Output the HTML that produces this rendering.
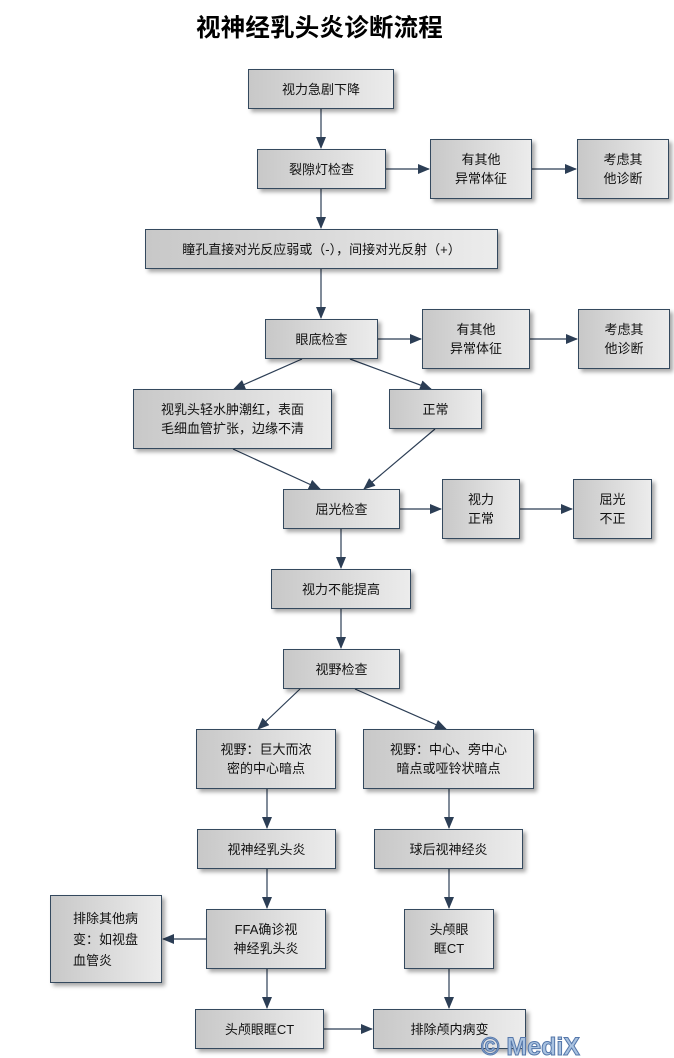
<!DOCTYPE html>
<html><head><meta charset="utf-8"><style>
html,body{margin:0;padding:0;background:#fff;width:674px;height:1058px;overflow:hidden;position:relative;font-family:"Liberation Sans","Noto Sans CJK SC",sans-serif;}
.b{position:absolute;box-sizing:border-box;border:1px solid #34495e;background:linear-gradient(to right,#c8c8c8,#ececec);box-shadow:3px 3px 4px rgba(0,0,0,0.35);display:flex;align-items:center;justify-content:center;text-align:center;font-size:13px;line-height:19px;color:#111;}
h1{position:absolute;left:196px;top:11px;margin:0;font-size:24.5px;letter-spacing:0.2px;font-weight:bold;font-family:"Noto Sans CJK SC",sans-serif;line-height:32px;color:#000;white-space:nowrap;}
svg{position:absolute;left:0;top:0;}
.wm{position:absolute;left:481px;top:1034px;font-size:25px;font-weight:bold;color:#a9c2e0;-webkit-text-stroke:1px #5577aa;font-family:"Liberation Sans",sans-serif;line-height:26px;}
</style></head><body>
<h1>视神经乳头炎诊断流程</h1>
<svg width="674" height="1058">
<defs><marker id="a" markerWidth="12" markerHeight="10" refX="11" refY="5" orient="auto" markerUnits="userSpaceOnUse"><path d="M0,0 L12,5 L0,10 Z" fill="#2c3e55"/></marker></defs>
<g stroke="#2c3e55" stroke-width="1.2" fill="none" marker-end="url(#a)">
<line x1="321" y1="109" x2="321" y2="148"/>
<line x1="386" y1="169" x2="429" y2="169"/>
<line x1="532" y1="169" x2="576" y2="169"/>
<line x1="321" y1="189" x2="321" y2="228"/>
<line x1="321" y1="269" x2="321" y2="318"/>
<line x1="378" y1="339" x2="421" y2="339"/>
<line x1="530" y1="339" x2="577" y2="339"/>
<line x1="302" y1="359" x2="234" y2="389"/>
<line x1="350" y1="359" x2="431" y2="389"/>
<line x1="233" y1="449" x2="320" y2="489"/>
<line x1="435" y1="429" x2="364" y2="489"/>
<line x1="400" y1="509" x2="441" y2="509"/>
<line x1="520" y1="509" x2="572" y2="509"/>
<line x1="341" y1="529" x2="341" y2="568"/>
<line x1="341" y1="609" x2="341" y2="648"/>
<line x1="300" y1="689" x2="258" y2="729"/>
<line x1="355" y1="689" x2="446" y2="729"/>
<line x1="267" y1="789" x2="267" y2="828"/>
<line x1="449" y1="789" x2="449" y2="828"/>
<line x1="267" y1="869" x2="267" y2="908"/>
<line x1="449" y1="869" x2="449" y2="908"/>
<line x1="206" y1="939" x2="163" y2="939"/>
<line x1="267" y1="969" x2="267" y2="1008"/>
<line x1="449" y1="969" x2="449" y2="1008"/>
<line x1="324" y1="1029" x2="372" y2="1029"/>
</g></svg>
<div class="b" style="left:248px;top:69px;width:146px;height:40px">视力急剧下降</div>
<div class="b" style="left:257px;top:149px;width:129px;height:40px">裂隙灯检查</div>
<div class="b" style="left:430px;top:139px;width:102px;height:60px">有其他<br>异常体征</div>
<div class="b" style="left:577px;top:139px;width:92px;height:60px">考虑其<br>他诊断</div>
<div class="b" style="left:145px;top:229px;width:353px;height:40px">瞳孔直接对光反应弱或（-），间接对光反射（+）</div>
<div class="b" style="left:265px;top:319px;width:113px;height:40px">眼底检查</div>
<div class="b" style="left:422px;top:309px;width:108px;height:60px">有其他<br>异常体征</div>
<div class="b" style="left:578px;top:309px;width:92px;height:60px">考虑其<br>他诊断</div>
<div class="b" style="left:133px;top:389px;width:199px;height:60px">视乳头轻水肿潮红，表面<br>毛细血管扩张，边缘不清</div>
<div class="b" style="left:389px;top:389px;width:93px;height:40px">正常</div>
<div class="b" style="left:283px;top:489px;width:117px;height:40px">屈光检查</div>
<div class="b" style="left:442px;top:479px;width:78px;height:60px">视力<br>正常</div>
<div class="b" style="left:573px;top:479px;width:79px;height:60px">屈光<br>不正</div>
<div class="b" style="left:271px;top:569px;width:140px;height:40px">视力不能提高</div>
<div class="b" style="left:283px;top:649px;width:117px;height:40px">视野检查</div>
<div class="b" style="left:196px;top:729px;width:140px;height:60px">视野：巨大而浓<br>密的中心暗点</div>
<div class="b" style="left:363px;top:729px;width:171px;height:60px">视野：中心、旁中心<br>暗点或哑铃状暗点</div>
<div class="b" style="left:197px;top:829px;width:139px;height:40px">视神经乳头炎</div>
<div class="b" style="left:374px;top:829px;width:149px;height:40px">球后视神经炎</div>
<div class="b" style="left:50px;top:895px;width:112px;height:88px;justify-content:flex-start;text-align:left;padding-left:22px;line-height:21px">排除其他病<br>变：如视盘<br>血管炎</div>
<div class="b" style="left:206px;top:909px;width:120px;height:60px">FFA确诊视<br>神经乳头炎</div>
<div class="b" style="left:404px;top:909px;width:90px;height:60px">头颅眼<br>眶CT</div>
<div class="b" style="left:195px;top:1009px;width:129px;height:40px">头颅眼眶CT</div>
<div class="b" style="left:373px;top:1009px;width:153px;height:40px">排除颅内病变</div>
<div class="wm">© MediX</div>
</body></html>
